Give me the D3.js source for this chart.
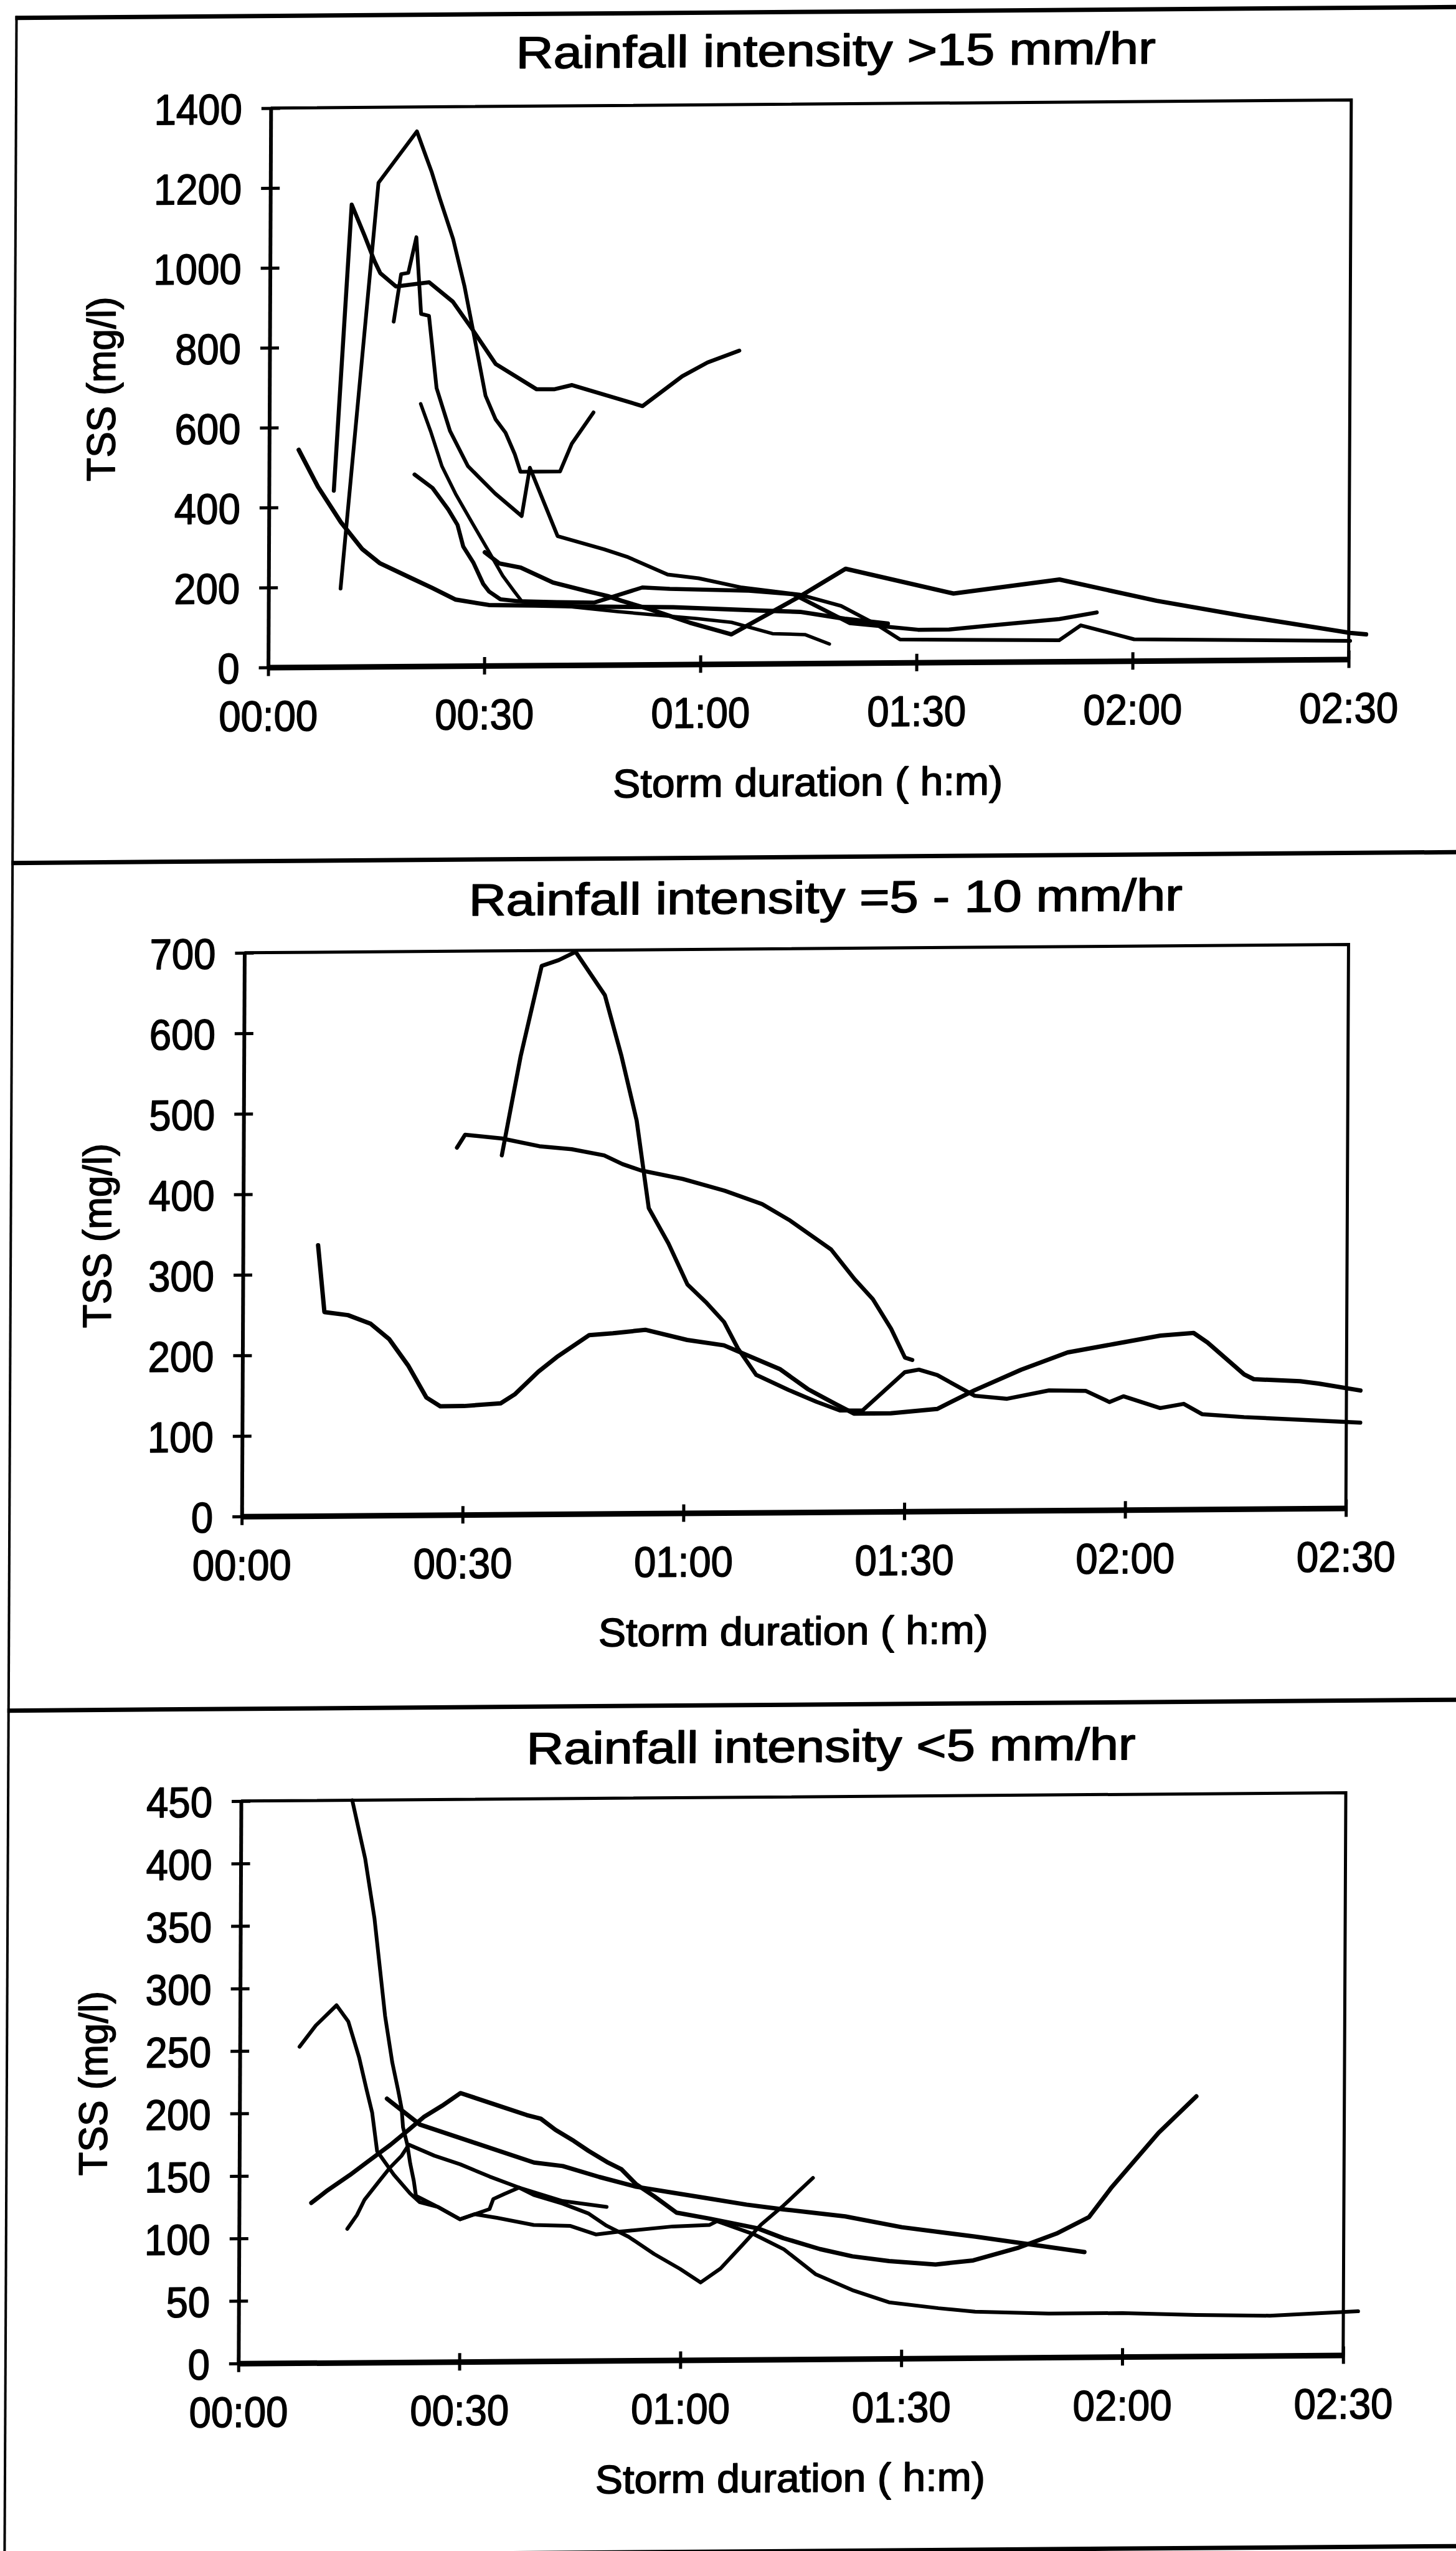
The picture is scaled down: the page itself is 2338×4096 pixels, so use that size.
<!DOCTYPE html>
<html><head><meta charset="utf-8">
<script src="https://cdn.jsdelivr.net/npm/d3@7"></script>
<style>html,body{margin:0;padding:0;background:#fff;} svg{display:block;}</style>
</head><body>
<script>
// ---------- tick values / labels ----------
const xTickMinutes = [0, 30, 60, 90, 120, 150];
const xTickLabels = ["00:00", "00:30", "01:00", "01:30", "02:00", "02:30"];
const yTicksP1 = [0, 200, 400, 600, 800, 1000, 1200, 1400];
const yTicksP2 = [0, 100, 200, 300, 400, 500, 600, 700];
const yTicksP3 = [0, 50, 100, 150, 200, 250, 300, 350, 400, 450];

const titleP1 = "Rainfall intensity >15 mm/hr";
const titleP2 = "Rainfall intensity =5 - 10 mm/hr";
const titleP3 = "Rainfall intensity <5 mm/hr";
const xAxisTitle = "Storm duration ( h:m)";
const yAxisTitle = "TSS (mg/l)";

// ---------- series: [minutes since storm start, TSS mg/l] ----------
// Panel 1 : > 15 mm/hr
const p1A = [[10,196],[15,1211],[20.3,1339],[21.6,1275],[22.4,1236],[23.5,1172],[25.4,1069],[27,951],[28.4,824],[30,676],[31.4,617],[32.8,583],[34.1,529],[34.9,485],[40.4,485],[42,554],[45,632]];
const p1B = [[9,441],[11.3,1157],[13.1,1079],[14.5,1015],[15.3,985],[17.5,951],[22.1,961],[25.4,912],[28.1,843],[31.4,755],[37.1,691],[39.6,691],[42,701],[51.8,647],[57.3,721],[60.8,755],[65.2,784]];
const p1D = [[17.2,863],[18.2,982],[19.2,985],[20.3,1074],[21,882],[22.1,877],[23.2,696],[25.1,588],[27.6,500],[31.4,431],[35.1,374],[36.2,495],[40.1,323],[46.6,289],[49.9,269],[55.4,225],[59.7,215],[65.7,191],[73.8,172],[79.5,143],[84.6,94],[87.7,58],[109.8,53],[112.8,90],[120.2,54],[150.2,46]];
const p1F = [[4.1,544],[6.8,451],[10,362],[13,294],[15.4,259],[19.9,220],[22.7,196],[26,166],[30.6,152],[37,150],[44.2,146],[56.2,143],[68.1,133],[73.8,129],[80,111],[86,98]];
const p1H = [[20.2,480],[22.7,446],[24.9,392],[26.2,353],[27,299],[28.4,259],[29.8,205],[30.6,186],[32.2,166],[34.6,161],[40,158],[45.2,156],[51.9,193],[55.7,189],[66.7,183],[72.9,173],[80.7,100],[90.2,82],[94.5,82],[99.4,90],[109.8,106],[115,122]];
const p1G = [[21,657],[22.4,588],[24,500],[25.9,431],[28.1,362],[30.3,294],[32.5,225],[34.1,186],[35.2,160],[40,150],[48.5,133],[59.5,114],[64.3,104],[70,75],[74.5,72],[77.9,48]];
const p1E = [[30,284],[32,256],[35,245],[39.5,207],[44.2,185],[47.1,172],[49,160],[53,138],[58.5,104],[64.3,74],[73.6,166],[80.1,236],[95.1,172],[109.8,205],[123.3,150],[135.5,110],[150.2,66],[152.4,62]];

// Panel 2 : 5 - 10 mm/hr
const p2P = [[35.1,446],[37.6,569],[40.4,681],[42.7,688],[45,698],[49,644],[51.3,568],[53.4,488],[55.1,379],[57.8,335],[60.4,284],[62.9,262],[65.4,237],[67.3,204],[69.8,171],[74.2,152],[78,137],[81.2,126],[84.3,126],[90,173],[91.9,176],[94.4,169],[99.5,143],[103.9,139],[109.6,149],[114.6,148],[117.8,134],[119.7,141],[124.7,126],[127.9,131],[130.4,118],[136.1,114],[146.2,109],[151.9,106]];
const p2Q = [[29,456],[30.1,472],[35.1,467],[40.2,457],[44.6,453],[49,445],[51.5,434],[54,426],[59.7,415],[65.4,400],[70.5,383],[74.2,363],[79.9,326],[83.1,289],[85.6,264],[88.1,227],[90,191],[91,188]];
const p2R = [[10.2,336],[11.1,253],[14.3,249],[17.4,238],[19.9,219],[22.5,186],[25,146],[26.9,135],[30.1,135],[35.1,138],[37,149],[40.2,177],[42.7,195],[47.1,222],[50.3,224],[54.7,228],[60.4,215],[65.4,208],[69.2,193],[73,178],[76.8,153],[80.6,134],[83.1,122],[88.1,122],[94.4,127],[99.5,150],[105.8,175],[112.1,196],[118.4,206],[124.7,216],[129.2,219],[131.1,207],[136.1,167],[137.4,161],[143.7,158],[146.2,155],[151.9,146]];

// Panel 3 : < 5 mm/hr
const p3S1 = [[8.1,253],[10.3,270],[13.1,286],[14.7,273],[16.2,244],[17.2,219],[18,200],[18.7,169],[21,150],[23.2,135],[24.5,128],[27,124],[30,114],[32,118],[35,115],[40,109],[45,108],[48.5,101],[51.4,103],[58.9,107],[63.9,108],[64.9,111],[70,100],[74,88],[78.3,68],[83.3,55],[88.3,45],[95,40],[100,37],[110,35],[120,35],[130,33],[140,32],[152,35]];
const p3S2 = [[15.1,450],[16.9,403],[18.2,355],[19.7,277],[20.7,240],[21.5,218],[22,203],[22.2,188],[22.8,174],[23.2,159],[23.7,145],[24,133],[27,124],[30,114],[34,122],[34.5,130],[36,134],[38,139],[40,133],[43.9,126],[47.4,118],[49.9,108],[52.9,99],[56.4,85],[59.9,73],[62.7,62],[65.4,73],[68.4,92],[70.9,108],[73.9,123],[77.9,145]];
const p3S3 = [[9.8,128],[12,138],[15,150],[17.5,161],[20.5,174],[23,186],[25,196],[27.5,205],[30,215],[32,211],[35,205],[39,197],[40.9,194],[42.9,185],[45.4,176],[47.4,168],[49.9,159],[51.9,153],[53.9,141],[56.4,131],[59.4,118],[63.9,113],[70.4,105],[73.9,97],[78.9,88],[83.3,82],[88.3,78],[94.6,75],[99.7,78],[105.9,88],[111,99],[115.4,112],[118.5,136],[124.8,179],[129.9,208]];
const p3S4 = [[14.7,107],[16,118],[17,130],[19,145],[20.5,156],[22,165],[23,174],[26.5,165],[30,158],[34,148],[38,139],[43.9,128],[49.9,123]];
const p3S5 = [[20,211],[24.5,190],[31.5,176],[40,159],[43.9,156],[48.9,147],[53.9,139],[58.9,134],[63.9,129],[68.9,124],[73.9,120],[82.3,114],[90,105],[100,97],[114.8,84]];

// ---------- layout ----------
const W = 2338, H = 4096;
const FONT = "'Liberation Sans', Arial, Helvetica, sans-serif";
const svg = d3.select("body").append("svg").attr("width", W).attr("height", H);
svg.append("rect").attr("width", W).attr("height", H).attr("fill", "#fff");

// slight shear of the scanned page
const kx = -0.0047, ky = -0.0075, pvx = 1167, pvy = 2045;
const root = svg.append("g")
  .attr("transform", `matrix(1,${ky},${kx},1,${-kx * pvy},${-ky * pvx})`);

// page frame and separators
const frame = root.append("g").attr("stroke", "#000").attr("fill", "none");
frame.append("line").attr("x1", 17).attr("x2", 17).attr("y1", 17).attr("y2", 4120).attr("stroke-width", 4);
[[20, 7], [1377, 7], [2738, 7], [4097, 7]].forEach(([yy, sw]) => {
  frame.append("line").attr("x1", 15).attr("x2", 2360).attr("y1", yy).attr("y2", yy).attr("stroke-width", sw);
});

// condensed, slightly heavier text like the scanned original
function heavyText(sel, size, squeeze) {
  sel.attr("font-family", FONT).attr("font-size", size).attr("fill", "#000")
    .attr("stroke", "#000").attr("stroke-width", 1.6).attr("stroke-linejoin", "round");
  if (squeeze) sel.each(function () {
    const len = this.getComputedTextLength();
    d3.select(this).attr("textLength", len * squeeze).attr("lengthAdjust", "spacingAndGlyphs");
  });
}

const panels = [
  { title: titleP1, tx: 1333, ty: 107, tlen: 1027, x0: 426, x1: 2161, yTop: 168, y0: 1066, yMax: 1400, yTicks: yTicksP1,
    series: [[p1A, 6], [p1B, 6.5], [p1D, 6], [p1F, 7], [p1H, 6.5], [p1G, 5.5], [p1E, 7]] },
  { title: titleP2, tx: 1323, ty: 1467, tlen: 1146, x0: 390, x1: 2163, yTop: 1524, y0: 2429, yMax: 700, yTicks: yTicksP2,
    series: [[p2P, 6.5], [p2Q, 6.5], [p2R, 7]] },
  { title: titleP3, tx: 1338, ty: 2830, tlen: 978, x0: 391, x1: 2165, yTop: 2886, y0: 3789, yMax: 450, yTicks: yTicksP3,
    series: [[p3S1, 6], [p3S2, 6], [p3S3, 7], [p3S4, 6], [p3S5, 7]] }
];

panels.forEach(p => {
  const g = root.append("g");
  const x = d3.scaleLinear().domain([0, 150]).range([p.x0, p.x1]);
  const y = d3.scaleLinear().domain([0, p.yMax]).range([p.y0, p.yTop]);

  // plot box top / right
  g.append("path").attr("d", `M${p.x0},${p.yTop}H${p.x1}V${p.y0}`)
    .attr("fill", "none").attr("stroke", "#000").attr("stroke-width", 5);

  // left axis
  const ga = g.append("g").attr("transform", `translate(${p.x0},0)`)
    .call(d3.axisLeft(y).tickValues(p.yTicks).tickFormat(d3.format("d")).tickSize(15).tickSizeOuter(0).tickPadding(31));
  ga.select(".domain").attr("stroke-width", 6);
  ga.selectAll(".tick line").attr("x1", 15).attr("stroke-width", 5);
  ga.selectAll(".tick text").attr("dy", "0.36em").call(heavyText, 69, 0.92);

  // bottom axis
  const gb = g.append("g").attr("transform", `translate(0,${p.y0})`)
    .call(d3.axisBottom(x).tickValues(xTickMinutes).tickFormat((d, i) => xTickLabels[i]).tickSize(14).tickSizeOuter(0));
  gb.select(".domain").attr("stroke-width", 9);
  gb.selectAll(".tick line").attr("y1", -14).attr("stroke-width", 5);
  gb.selectAll(".tick text").attr("y", 102).attr("dy", 0).call(heavyText, 69, 0.92);

  // titles
  g.append("text").attr("x", p.tx).attr("y", p.ty).attr("text-anchor", "middle")
    .call(heavyText, 72).attr("textLength", p.tlen).attr("lengthAdjust", "spacingAndGlyphs")
    .text(p.title);
  g.append("text").attr("x", (p.x0 + p.x1) / 2).attr("y", p.y0 + 213).attr("text-anchor", "middle")
    .call(heavyText, 64).attr("textLength", 626).attr("lengthAdjust", "spacingAndGlyphs")
    .text(xAxisTitle);
  g.append("text").attr("transform", `translate(178,${(p.yTop + p.y0) / 2}) rotate(-90)`).attr("text-anchor", "middle")
    .call(heavyText, 64).attr("textLength", 296).attr("lengthAdjust", "spacingAndGlyphs")
    .text(yAxisTitle);

  // data lines
  const line = d3.line().x(d => x(d[0])).y(d => y(d[1]));
  p.series.forEach(([data, sw]) => {
    g.append("path").datum(data).attr("d", line)
      .attr("fill", "none").attr("stroke", "#000").attr("stroke-width", sw)
      .attr("stroke-linejoin", "round").attr("stroke-linecap", "round");
  });
});
</script>
</body></html>
